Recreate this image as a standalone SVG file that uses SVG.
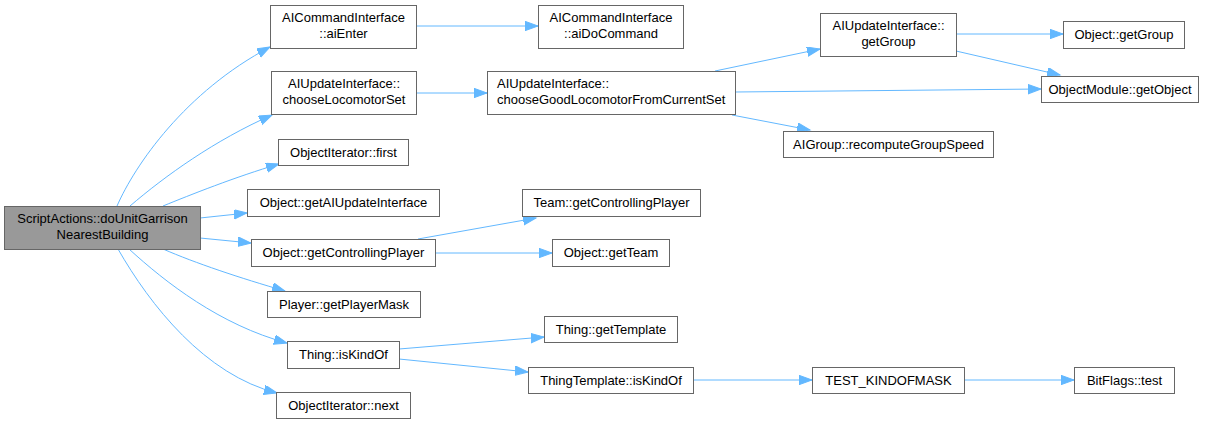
<svg xmlns="http://www.w3.org/2000/svg" width="1212" height="424" viewBox="0 0 1212 424">
<style>
.n rect{fill:#ffffff;stroke:#666666;stroke-width:1}
.root rect{fill:#999999;stroke:#666666;stroke-width:1}
text{font-family:"Liberation Sans",Arial,sans-serif;font-size:13px;fill:#000000;text-anchor:middle}
.e path{fill:none;stroke:#63b8ff;stroke-width:1;marker-end:url(#ah)}
</style>
<defs>
<marker id="ah" markerUnits="userSpaceOnUse" markerWidth="15" markerHeight="11" refX="13" refY="4.7" orient="auto">
<path d="M0,0 L13,4.7 L0,9.4 z" fill="#63b8ff" stroke="#63b8ff" stroke-width="1"/>
</marker>
</defs>
<rect width="1212" height="424" fill="#ffffff"/>
<g id="edges" class="e">
<path d="M117,206 C135,165 185,92 270,47"/>
<path d="M130,206 C165,176 215,140 272,115"/>
<path d="M163,206 C190,195 235,177 279,164"/>
<path d="M200,218 L247,213"/>
<path d="M200,238 L251,243"/>
<path d="M163,249 C195,263 240,278 285,291"/>
<path d="M129,249 C165,282 220,325 287,343"/>
<path d="M118,249 C150,305 205,375 277,393"/>
<path d="M416,26 L538,26"/>
<path d="M416,93 L487,93"/>
<path d="M715,71 L820,49"/>
<path d="M735,92 L1041,89"/>
<path d="M732,115 L810,130"/>
<path d="M956,34 L1063,34"/>
<path d="M956,51 L1060,75"/>
<path d="M418,239 L536,218"/>
<path d="M435,253 L552,253"/>
<path d="M399,349 L544,337"/>
<path d="M399,359 L528,372"/>
<path d="M693,380 L812,380"/>
<path d="M964,380 L1074,380"/>
</g>
<g id="root" class="root"><rect x="4.5" y="206.5" width="196" height="43"/><text x="102.5" y="223">ScriptActions::doUnitGarrison</text><text x="102.5" y="239">NearestBuilding</text></g>
<g id="aiEnter" class="n"><rect x="270.5" y="5.5" width="146" height="43"/><text x="343.5" y="22">AICommandInterface</text><text x="343.5" y="38">::aiEnter</text></g>
<g id="aiDoCommand" class="n"><rect x="538.5" y="5.5" width="145" height="43"/><text x="611" y="22">AICommandInterface</text><text x="611" y="38">::aiDoCommand</text></g>
<g id="chooseLocomotorSet" class="n"><rect x="271.5" y="71.5" width="145" height="43"/><text x="344" y="88">AIUpdateInterface::</text><text x="344" y="104">chooseLocomotorSet</text></g>
<g id="chooseGood" class="n"><rect x="487.5" y="71.5" width="248" height="43"/><text x="497" y="88" style="text-anchor:start">AIUpdateInterface::</text><text x="497" y="104" style="text-anchor:start">chooseGoodLocomotorFromCurrentSet</text></g>
<g id="aiGetGroup" class="n"><rect x="820.5" y="13.5" width="136" height="43"/><text x="888.5" y="30">AIUpdateInterface::</text><text x="888.5" y="46">getGroup</text></g>
<g id="objGetGroup" class="n"><rect x="1063.5" y="21.5" width="121" height="27"/><text x="1124" y="39">Object::getGroup</text></g>
<g id="getObject" class="n"><rect x="1041.5" y="76.5" width="157" height="26"/><text x="1120" y="94">ObjectModule::getObject</text></g>
<g id="recompute" class="n"><rect x="783.5" y="131.5" width="210" height="26"/><text x="888.5" y="149">AIGroup::recomputeGroupSpeed</text></g>
<g id="iterFirst" class="n"><rect x="278.5" y="139.5" width="130" height="26"/><text x="343.5" y="157">ObjectIterator::first</text></g>
<g id="getAIUpdate" class="n"><rect x="247.5" y="189.5" width="192" height="27"/><text x="343.5" y="207">Object::getAIUpdateInterface</text></g>
<g id="teamCtrl" class="n"><rect x="522.5" y="189.5" width="178" height="27"/><text x="611.5" y="207">Team::getControllingPlayer</text></g>
<g id="objCtrl" class="n"><rect x="251.5" y="239.5" width="184" height="27"/><text x="343.5" y="257">Object::getControllingPlayer</text></g>
<g id="getTeam" class="n"><rect x="552.5" y="239.5" width="117" height="27"/><text x="611" y="257">Object::getTeam</text></g>
<g id="playerMask" class="n"><rect x="267.5" y="291.5" width="153" height="26"/><text x="344" y="309">Player::getPlayerMask</text></g>
<g id="thingIsKindOf" class="n"><rect x="287.5" y="341.5" width="112" height="27"/><text x="343.5" y="359">Thing::isKindOf</text></g>
<g id="getTemplate" class="n"><rect x="544.5" y="316.5" width="133" height="26"/><text x="611" y="334">Thing::getTemplate</text></g>
<g id="ttIsKindOf" class="n"><rect x="528.5" y="367.5" width="165" height="26"/><text x="611" y="385">ThingTemplate::isKindOf</text></g>
<g id="iterNext" class="n"><rect x="276.5" y="392.5" width="134" height="26"/><text x="343.5" y="410">ObjectIterator::next</text></g>
<g id="testMask" class="n"><rect x="812.5" y="367.5" width="152" height="26"/><text x="888.5" y="385">TEST_KINDOFMASK</text></g>
<g id="bitTest" class="n"><rect x="1074.5" y="367.5" width="100" height="26"/><text x="1124.5" y="385">BitFlags::test</text></g>
</svg>
